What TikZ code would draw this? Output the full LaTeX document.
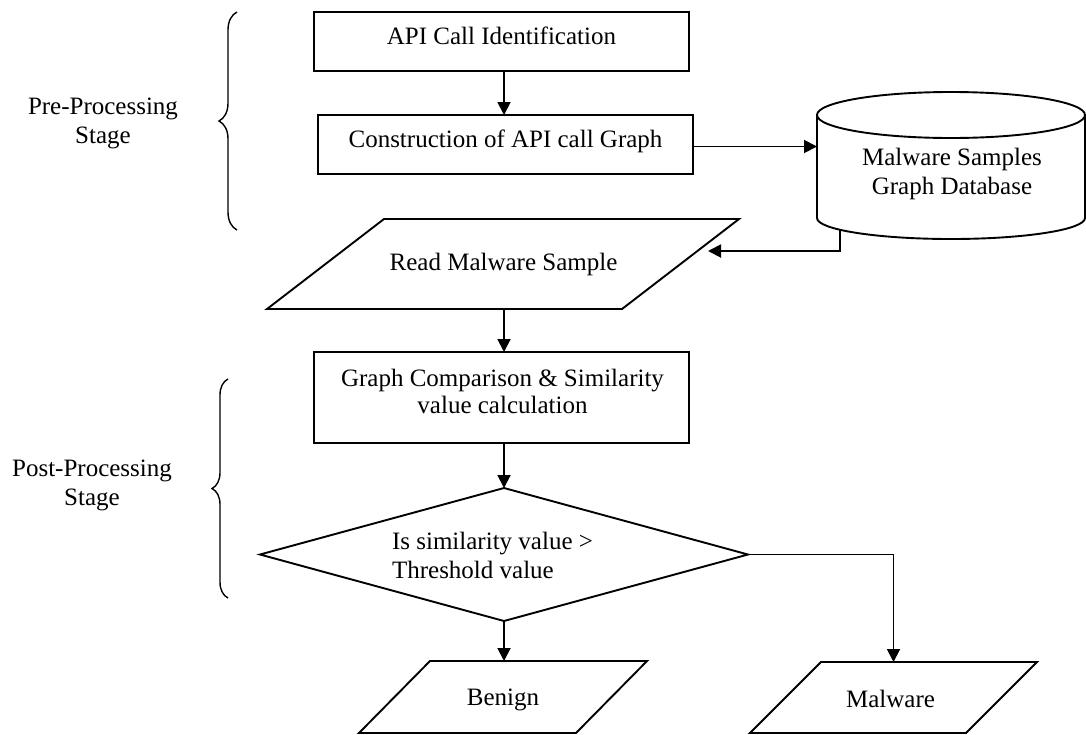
\documentclass[tikz,border=0pt]{standalone}
\usepackage{fontspec}
\setmainfont{Liberation Serif}
\usetikzlibrary{shapes.geometric,arrows.meta,decorations.pathreplacing}

\begin{document}
\begin{tikzpicture}[x=1pt,y=-1pt,
  every node/.style={font=\fontsize{25}{29}\selectfont, inner sep=0pt, outer sep=0pt},
  shapeline/.style={draw=black, line width=1.9pt},
  procbox/.style={shapeline, rectangle, minimum width=375pt},
  linetext/.style={anchor=base},
  blocktext/.style={anchor=center},
  flowarrow/.style={line width=1.9pt, -{Triangle[length=13pt,width=13pt]}},
  stagebrace/.style={decorate, decoration={brace, amplitude=#1}, line width=1.4pt},
]
\useasboundingbox (0,0) rectangle (1086,734);

% common vertical axis of the main flow
\coordinate (axis) at (504,0);

% ---- stage labels and braces ----
\node[blocktext, align=center] (pre) at (103,123.2) {Pre-Processing\\Stage};
\coordinate (pretop) at (237,12);
\coordinate (prebot) at (237,230);
\draw[stagebrace=18pt] (prebot) -- (pretop);

\node[blocktext, align=center] (post) at (92,485.2) {Post-Processing\\Stage};
\coordinate (posttop) at (228,379);
\coordinate (postbot) at (228,598);
\draw[stagebrace=16pt] (postbot) -- (posttop);

% ---- process boxes ----
\node[procbox, minimum height=59pt] (idcall) at (501.5,41.5) {};
\node[linetext] (idcalltext) at (501.5,44) {API Call Identification};

\node[procbox, minimum height=59pt] (graphcons) at (505.5,144.5) {};
\node[linetext] (graphconstext) at (505.5,147) {Construction of API call Graph};

\node[procbox, minimum height=91pt] (compare) at (501.5,397.5) {};
\node[blocktext, align=center, font=\fontsize{25}{27}\selectfont] (comparetext) at (502.5,391)
  {Graph Comparison \& Similarity\\value calculation};

% ---- database cylinder ----
\node[minimum width=268pt, minimum height=103pt] (db) at (951,166.5) {};
\draw[shapeline] (db.north west) -- (db.south west)
  arc[start angle=180, end angle=360, x radius=134pt, y radius=21pt] -- (db.north east);
\draw[shapeline] (db.north) ellipse[x radius=134pt, y radius=23pt];
\node[blocktext, align=center] (dbtext) at (952,174.2) {Malware Samples\\Graph Database};

% ---- input / output parallelograms ----
\node[minimum width=355pt, minimum height=90pt] (readms) at (503,264) {};
\draw[shapeline] ([xshift=-58.5pt]readms.south west) -- ([xshift=58.5pt]readms.north west)
  -- ([xshift=58.5pt]readms.north east) -- ([xshift=-58.5pt]readms.south east) -- cycle;
\node[linetext] (readmstext) at (503.5,270) {Read Malware Sample};

\node[minimum width=217pt, minimum height=72pt] (benign) at (503,697) {};
\draw[shapeline] ([xshift=-35.5pt]benign.south west) -- ([xshift=35.5pt]benign.north west)
  -- ([xshift=35.5pt]benign.north east) -- ([xshift=-35.5pt]benign.south east) -- cycle;
\node[linetext] (benigntext) at (503,705) {Benign};

\node[minimum width=216pt, minimum height=71pt] (malw) at (893.5,697.5) {};
\draw[shapeline] ([xshift=-35.5pt]malw.south west) -- ([xshift=35.5pt]malw.north west)
  -- ([xshift=35.5pt]malw.north east) -- ([xshift=-35.5pt]malw.south east) -- cycle;
\node[linetext] (malwtext) at (890.5,707) {Malware};

% ---- decision ----
\node[shapeline, diamond, aspect=3.67, minimum width=488pt, minimum height=133pt] (decide) at (504,554.5) {};
\node[blocktext, align=left] (decidetext) at (492.5,555.5) {Is similarity value >\\Threshold value};

% ---- connectors ----
\draw[flowarrow] (idcall.south -| axis) -- (graphcons.north -| axis);
\draw[flowarrow] ([yshift=-2pt]graphcons.east) -- ([yshift=-2pt]graphcons.east -| db.west);
\coordinate (dbout) at (840,229.8);
\coordinate (readin) at (708,251);
\draw[flowarrow] (dbout) |- (readin);
\draw[flowarrow] (readms.south -| axis) -- (compare.north -| axis);
\draw[flowarrow] (compare.south -| axis) -- (decide.north);
\draw[flowarrow] (decide.south) -- (decide.south |- benign.north);
\draw[flowarrow] (decide.east) -| (malw.north);
\end{tikzpicture}
\end{document}
